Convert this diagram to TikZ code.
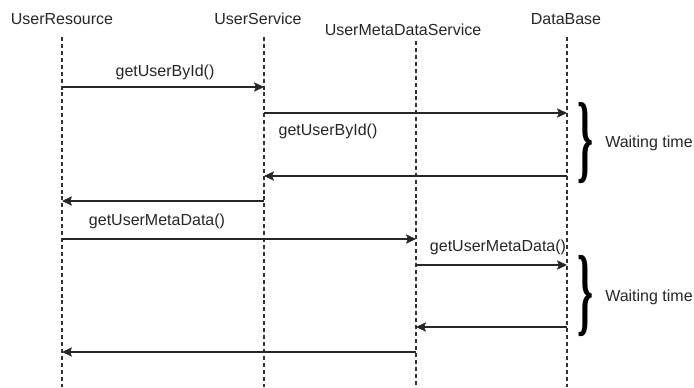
\documentclass[tikz,border=0pt]{standalone}
\usepackage{fontspec}
\setmainfont{Liberation Sans}
\newfontfamily\bracefont{Liberation Serif}
\usetikzlibrary{arrows.meta}
\begin{document}
\begin{tikzpicture}[x=0.75pt,y=-0.75pt,
  lbl/.style={font=\fontsize{12}{14}\selectfont, inner sep=0pt, text=black!85},
  lifeline/.style={draw=black!80, line width=0.8pt, dash pattern=on 3pt off 2.2pt},
  msg/.style={draw=black!85, line width=0.8pt, -{Stealth[length=7.5pt,width=7pt,inset=1.5pt]}},
  wait/.style={inner sep=0pt, font=\bracefont\bfseries}]
\useasboundingbox (0,0) rectangle (694,387);

% participants
\node[lbl] (res) at (62,19) {UserResource};
\node[lbl] (svc) at (258,19) {UserService};
\node[lbl] (meta) at (403,30) {UserMetaDataService};
\node[lbl] (db) at (566,19) {DataBase};

% lifelines
\coordinate (resT) at (62,37);   \coordinate (resB) at (62,387);
\coordinate (svcT) at (264,37);  \coordinate (svcB) at (264,387);
\coordinate (metaT) at (416,41); \coordinate (metaB) at (416,387);
\coordinate (dbT) at (567,37);   \coordinate (dbB) at (567,387);
\draw[lifeline] (resT) -- (resB);
\draw[lifeline] (svcT) -- (svcB);
\draw[lifeline] (metaT) -- (metaB);
\draw[lifeline] (dbT) -- (dbB);

% messages
\coordinate (m1a) at (62,87);   \coordinate (m1b) at (264,87);
\coordinate (m2a) at (264,113); \coordinate (m2b) at (567,113);
\coordinate (m3a) at (567,176); \coordinate (m3b) at (264,176);
\coordinate (m4a) at (264,201); \coordinate (m4b) at (62,201);
\coordinate (m5a) at (62,239);  \coordinate (m5b) at (416,239);
\coordinate (m6a) at (416,265); \coordinate (m6b) at (567,265);
\coordinate (m7a) at (567,327); \coordinate (m7b) at (416,327);
\coordinate (m8a) at (416,352); \coordinate (m8b) at (62,352);

\draw[msg] (m1a) -- (m1b);
\draw[msg] (m2a) -- (m2b);
\draw[msg] (m3a) -- (m3b);
\draw[msg] (m4a) -- (m4b);
\draw[msg] (m5a) -- (m5b);
\draw[msg] (m6a) -- (m6b);
\draw[msg] (m7a) -- (m7b);
\draw[msg] (m8a) -- (m8b);

% message labels
\node[lbl] (l1) at (165,72) {getUserById()};
\node[lbl] (l2) at (328,131) {getUserById()};
\node[lbl] (l5) at (157,221) {getUserMetaData()};
\node[lbl] (l6) at (498,247) {getUserMetaData()};

% waiting intervals
\node[wait] (b1) at (585,143) {\resizebox{12pt}{51pt}{\}}};
\node[wait] (b2) at (585,296) {\resizebox{12pt}{51pt}{\}}};
\node[lbl] (w1) at (649,143) {Waiting time};
\node[lbl] (w2) at (649,297) {Waiting time};
\end{tikzpicture}
\end{document}
